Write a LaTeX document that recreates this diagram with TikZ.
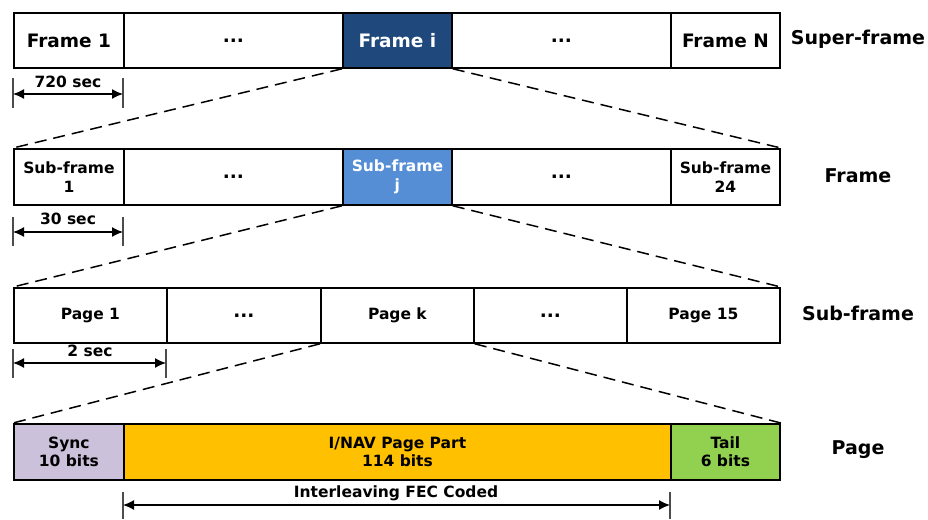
\documentclass[tikz,border=0pt]{standalone}
\usepackage{fontspec}
\setmainfont{DejaVu Sans}
\usetikzlibrary{arrows.meta}
\definecolor{frameblue}{HTML}{1F497D}
\definecolor{subblue}{HTML}{558ED5}
\definecolor{synccol}{HTML}{CCC1DA}
\definecolor{navcol}{HTML}{FFC000}
\definecolor{tailcol}{HTML}{92D050}
\tikzset{
  cell/.style={draw=black, line width=1.8pt, anchor=north west, inner sep=0pt, align=center, font=\bfseries\fontsize{15.5}{18.5}\selectfont},
  bigcell/.style={cell, font=\bfseries\fontsize{18.5}{21}\selectfont},
  rowlabel/.style={font=\bfseries\fontsize{19}{22}\selectfont, inner sep=0pt},
  dashline/.style={dash pattern=on 12pt off 7pt, line width=1.5pt},
  dimline/.style={{Latex[length=11pt,width=10pt]}-{Latex[length=11pt,width=10pt]}, line width=1.3pt},
  tickline/.style={draw=black!70, line width=1.3pt},
  dimlabel/.style={font=\bfseries\fontsize{15.5}{18}\selectfont, inner sep=0pt}
}
\begin{document}
\begin{tikzpicture}[x=1pt,y=-1pt]
\useasboundingbox (0,0) rectangle (928,519);
% Row 1
\node[bigcell, minimum width=110pt, minimum height=55pt] (r1a) at (13,12) {Frame 1};
\node[bigcell, minimum width=219pt, minimum height=55pt] (r1b) at (123,12) {...};
\node[bigcell, fill=frameblue, text=white, minimum width=109pt, minimum height=55pt] (r1c) at (342,12) {Frame i};
\node[bigcell, minimum width=219pt, minimum height=55pt] (r1d) at (451,12) {...};
\node[bigcell, minimum width=109pt, minimum height=55pt] (r1e) at (670,12) {Frame N};
\node[rowlabel] (l1) at (858,39) {Super-frame};
% Row 2
\node[cell, minimum width=110pt, minimum height=56pt] (r2a) at (13,148) {Sub-frame\\1};
\node[bigcell, minimum width=219pt, minimum height=56pt] (r2b) at (123,148) {...};
\node[cell, fill=subblue, text=white, minimum width=109pt, minimum height=56pt] (r2c) at (342,148) {Sub-frame\\j};
\node[bigcell, minimum width=219pt, minimum height=56pt] (r2d) at (451,148) {...};
\node[cell, minimum width=109pt, minimum height=56pt] (r2e) at (670,148) {Sub-frame\\24};
\node[rowlabel] (l2) at (858,176) {Frame};
% Row 3
\node[cell, minimum width=153pt, minimum height=55pt] (r3a) at (13,287) {Page 1};
\node[bigcell, minimum width=154pt, minimum height=55pt] (r3b) at (166,287) {...};
\node[cell, minimum width=153pt, minimum height=55pt] (r3c) at (320,287) {Page k};
\node[bigcell, minimum width=153pt, minimum height=55pt] (r3d) at (473,287) {...};
\node[cell, minimum width=153pt, minimum height=55pt] (r3e) at (626,287) {Page 15};
\node[rowlabel] (l3) at (858,313) {Sub-frame};
% Row 4
\node[cell, fill=synccol, minimum width=110pt, minimum height=56pt] (r4a) at (13,423) {Sync\\10 bits};
\node[cell, fill=navcol, minimum width=547pt, minimum height=56pt] (r4b) at (123,423) {I/NAV Page Part\\114 bits};
\node[cell, fill=tailcol, minimum width=109pt, minimum height=56pt] (r4c) at (670,423) {Tail\\6 bits};
\node[rowlabel] (l4) at (858,450) {Page};
% Zoom lines
\draw[dashline] (r1c.south west) -- (r2a.north west);
\draw[dashline] (r1c.south east) -- (r2e.north east);
\draw[dashline] (r2c.south west) -- (r3a.north west);
\draw[dashline] (r2c.south east) -- (r3e.north east);
\draw[dashline] (r3c.south west) -- (r4a.north west);
\draw[dashline] (r3c.south east) -- (r4c.north east);
% Dimension 720 sec
\coordinate (d1a) at (13,94); \coordinate (d1b) at (123,94);
\draw[tickline] (13,78) -- (13,108); \draw[tickline] (123,78) -- (123,108);
\draw[dimline] (d1a) -- (d1b);
\node[dimlabel] (t1) at (68,82) {720 sec};
% Dimension 30 sec
\coordinate (d2a) at (13,232); \coordinate (d2b) at (123,232);
\draw[tickline] (13,217) -- (13,246); \draw[tickline] (123,217) -- (123,246);
\draw[dimline] (d2a) -- (d2b);
\node[dimlabel] (t2) at (68,219) {30 sec};
% Dimension 2 sec
\coordinate (d3a) at (13,363); \coordinate (d3b) at (166,363);
\draw[tickline] (13,349) -- (13,378); \draw[tickline] (166,349) -- (166,378);
\draw[dimline] (d3a) -- (d3b);
\node[dimlabel] (t3) at (90,351) {2 sec};
% Interleaving
\coordinate (d4a) at (123,505); \coordinate (d4b) at (670,505);
\draw[tickline] (123,492) -- (123,519); \draw[tickline] (670,492) -- (670,519);
\draw[dimline] (d4a) -- (d4b);
\node[dimlabel] (t4) at (396,493) {Interleaving FEC Coded};
\end{tikzpicture}
\end{document}
